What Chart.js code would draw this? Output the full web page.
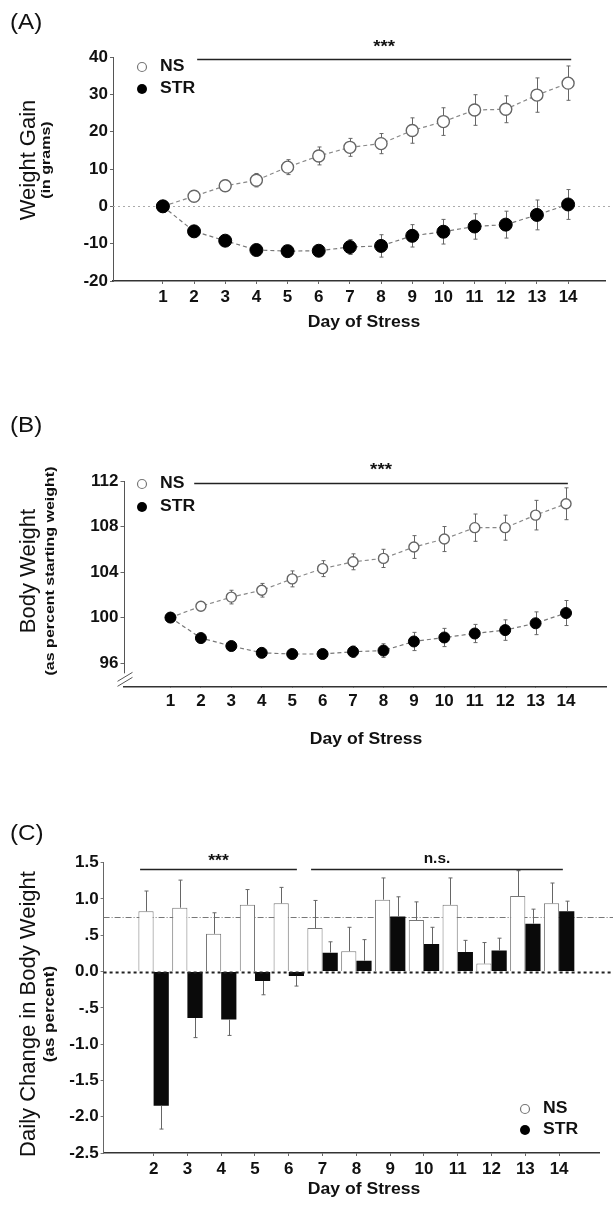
<!DOCTYPE html>
<html>
<head>
<meta charset="utf-8">
<script src="https://cdn.jsdelivr.net/npm/chart.js@4.4.1/dist/chart.umd.min.js"></script>
<style>
  html, body { margin: 0; padding: 0; background: #fff; }
  #page { position: relative; width: 613px; height: 1205px; overflow: hidden; background: #fff; }
  .panel { position: absolute; left: 0; width: 613px; }
</style>
</head>
<body>
<div id="page">
  <div class="panel" style="top:0;height:340px"><canvas id="chartA"></canvas></div>
  <div class="panel" style="top:340px;height:420px"><canvas id="chartB"></canvas></div>
  <div class="panel" style="top:760px;height:445px"><canvas id="chartC"></canvas></div>
</div>
<script>
// ---- data ----
const days = [1, 2, 3, 4, 5, 6, 7, 8, 9, 10, 11, 12, 13, 14];

// (A) weight gain, grams
const gainNS     = [0, 2.7, 5.5, 7.0, 10.5, 13.5, 15.8, 16.8, 20.3, 22.7, 25.8, 26.0, 29.8, 33.0];
const gainNSErr  = [0, 1.2, 1.5, 1.8, 2.0, 2.4, 2.4, 2.7, 3.4, 3.7, 4.1, 3.6, 4.6, 4.6];
const gainSTR    = [0, -6.7, -9.2, -11.7, -12.0, -11.9, -10.9, -10.6, -7.9, -6.8, -5.4, -4.9, -2.3, 0.5];
const gainSTRErr = [0, 1.2, 1.2, 1.2, 1.3, 1.4, 2.0, 3.0, 3.0, 3.3, 3.4, 3.6, 4.0, 4.0];

// (B) body weight, percent of starting weight
const bwNS     = [100, 101.0, 101.8, 102.4, 103.4, 104.3, 104.9, 105.2, 106.2, 106.9, 107.9, 107.9, 109.0, 110.0];
const bwNSErr  = [0, 0.3, 0.6, 0.6, 0.7, 0.7, 0.7, 0.8, 1.0, 1.1, 1.2, 1.1, 1.3, 1.4];
const bwSTR    = [100, 98.2, 97.5, 96.9, 96.8, 96.8, 97.0, 97.1, 97.9, 98.25, 98.6, 98.9, 99.5, 100.4];
const bwSTRErr = [0, 0.3, 0.3, 0.3, 0.3, 0.4, 0.5, 0.6, 0.8, 0.8, 0.8, 0.9, 1.0, 1.1];
const bwTicks  = [96, 100, 104, 108, 112];

// (C) daily change in body weight, percent
const changeDays = [2, 3, 4, 5, 6, 7, 8, 9, 10, 11, 12, 13, 14];
const chgNS     = [0.83, 0.88, 0.52, 0.92, 0.94, 0.60, 0.28, 0.99, 0.71, 0.92, 0.11, 1.04, 0.94];
const chgNSErr  = [0.28, 0.38, 0.29, 0.21, 0.22, 0.38, 0.33, 0.30, 0.25, 0.37, 0.29, 0.35, 0.28];
const chgSTR    = [-1.85, -0.64, -0.66, -0.13, -0.06, 0.26, 0.15, 0.76, 0.38, 0.27, 0.29, 0.66, 0.83];
const chgSTRErr = [0.32, 0.27, 0.22, 0.19, 0.14, 0.15, 0.29, 0.27, 0.23, 0.16, 0.17, 0.20, 0.14];
const nsMeanLine = 0.75;

const FONT = '"Liberation Sans", Arial, sans-serif';
const TEXT_SX = 1.1; // the scanned lettering is a bit wider than Arial
Chart.defaults.font.family = FONT;
Chart.defaults.color = '#000';

const xy = (xs, ys) => xs.map((x, i) => ({ x: x, y: ys[i] }));

// error bars: 'both' = up and down, 'out' = away from zero
const errorBars = {
  id: 'errorBars',
  beforeDatasetsDraw(chart) { if (chart.config.type === 'line') drawErrors(chart); },
  afterDatasetsDraw(chart) { if (chart.config.type === 'bar') drawErrors(chart); }
};
function drawErrors(chart) {
  const ctx = chart.ctx;
  const y = chart.scales.y;
  ctx.save();
  ctx.strokeStyle = '#666';
  ctx.lineWidth = 1;
  chart.data.datasets.forEach((ds, di) => {
    if (!ds.errors) return;
    const meta = chart.getDatasetMeta(di);
    meta.data.forEach((el, i) => {
      const e = ds.errors[i];
      if (!e) return;
      const v = ds.data[i].y;
      let lo, hi;
      if (ds.errDir === 'out') {
        lo = v; hi = v >= 0 ? v + e : v - e;
      } else {
        lo = v - e; hi = v + e;
      }
      const px = Math.round(el.x) + 0.5;
      const p1 = y.getPixelForValue(lo), p2 = y.getPixelForValue(hi);
      ctx.beginPath();
      ctx.moveTo(px, p1); ctx.lineTo(px, p2);
      if (ds.errDir !== 'out') { ctx.moveTo(px - 2, p1); ctx.lineTo(px + 2, p1); }
      ctx.moveTo(px - 2, p2); ctx.lineTo(px + 2, p2);
      ctx.stroke();
    });
  });
  ctx.restore();
}

function wideText(ctx, text, x, y, align) {
  ctx.save();
  ctx.translate(x, y);
  ctx.scale(TEXT_SX, 1);
  ctx.textAlign = align;
  ctx.fillText(text, 0, 0);
  ctx.restore();
}

// titles, legend, significance lines, reference lines
function decor(cfg) {
  function refLines(chart, front) {
    const { ctx, chartArea: a, scales: { y } } = chart;
    (cfg.refLines || []).filter(r => !!r.front === front).forEach(r => {
      const py = Math.round(y.getPixelForValue(r.value)) + 0.5;
      ctx.save();
      ctx.strokeStyle = r.color; ctx.lineWidth = r.width; ctx.setLineDash(r.dash);
      ctx.beginPath(); ctx.moveTo(a.left, py); ctx.lineTo(chart.width, py); ctx.stroke();
      ctx.restore();
    });
  }
  return {
    id: 'decor',
    beforeDatasetsDraw(chart) { refLines(chart, false); },
    afterDatasetsDraw(chart) { refLines(chart, true); },
    afterDraw(chart) {
      const { ctx, chartArea: a, scales: { x, y } } = chart;
      ctx.save();
      ctx.fillStyle = '#111';
      ctx.textBaseline = 'middle';

      ctx.font = '22px ' + FONT;
      wideText(ctx, cfg.panel.text, cfg.panel.x, cfg.panel.y, 'left');

      // y title (two lines, rotated)
      ctx.textAlign = 'center';
      ctx.save();
      ctx.translate(cfg.yTitle.x, cfg.yTitle.y); ctx.rotate(-Math.PI / 2);
      ctx.font = '22px ' + FONT; ctx.fillText(cfg.yTitle.main, 0, 0);
      ctx.restore();
      ctx.save();
      ctx.translate(cfg.yTitle.subX, cfg.yTitle.y); ctx.rotate(-Math.PI / 2); ctx.scale(1, 0.85);
      ctx.font = 'bold ' + cfg.yTitle.subSize + 'px ' + FONT; ctx.fillText(cfg.yTitle.sub, 0, 0);
      ctx.restore();

      ctx.font = 'bold 16px ' + FONT;
      wideText(ctx, 'Day of Stress', cfg.xTitle.x, cfg.xTitle.y, 'center');

      // legend
      cfg.legend.items.forEach(it => {
        ctx.beginPath();
        ctx.arc(cfg.legend.x, it.y, it.open ? 4.5 : 5, 0, Math.PI * 2);
        if (it.open) { ctx.strokeStyle = '#777'; ctx.lineWidth = 1.2; ctx.stroke(); }
        else { ctx.fillStyle = '#000'; ctx.fill(); }
        ctx.fillStyle = '#111';
        ctx.font = 'bold 16px ' + FONT;
        wideText(ctx, it.label, cfg.legend.textX, it.y, 'left');
      });

      // significance bars
      (cfg.sig || []).forEach(s => {
        const x1 = x.getPixelForValue(s.from), x2 = x.getPixelForValue(s.to);
        const py = Math.round(y.getPixelForValue(s.y)) + 0.5;
        ctx.strokeStyle = '#222'; ctx.lineWidth = 1.6;
        ctx.beginPath(); ctx.moveTo(x1, py); ctx.lineTo(x2, py); ctx.stroke();
        ctx.font = 'bold ' + s.size + 'px ' + FONT;
        wideText(ctx, s.text, (x1 + x2) / 2, py + s.dy, 'center');
      });

      if (cfg.brokenAxis) {
        const yEnd = y.getPixelForValue(cfg.brokenAxis.end);
        const lx = Math.round(a.left) + 0.5;
        ctx.strokeStyle = '#555'; ctx.lineWidth = 1;
        ctx.beginPath(); ctx.moveTo(lx, a.top); ctx.lineTo(lx, yEnd); ctx.stroke();
        ctx.beginPath();
        ctx.moveTo(lx - 7, yEnd + 8); ctx.lineTo(lx + 8, yEnd - 1);
        ctx.moveTo(lx - 7, yEnd + 13); ctx.lineTo(lx + 8, yEnd + 4);
        ctx.stroke();
      }
      ctx.restore();
    }
  };
}

function lineSets(ns, nsErr, str, strErr, r) {
  return [
    { label: 'STR', data: xy(days, str), errors: strErr, order: 0,
      borderColor: '#777', borderWidth: 1.2, borderDash: [4, 3],
      pointRadius: r + 0.5, pointBackgroundColor: '#000', pointBorderColor: '#000', pointBorderWidth: 1 },
    { label: 'NS', data: xy(days, ns), errors: nsErr, order: 1,
      borderColor: '#888', borderWidth: 1.2, borderDash: [4, 3],
      pointRadius: r, pointBackgroundColor: '#fff', pointBorderColor: '#666', pointBorderWidth: 1.4 }
  ];
}

const tickFont = { size: 17, weight: 'bold' };

function axisX(min, max, ticks, height, tickLen, pad) {
  return {
    type: 'linear', min: min, max: max, offset: false,
    afterBuildTicks: s => { s.ticks = ticks.map(v => ({ value: v })); },
    afterFit: s => { s.height = height; },
    border: { display: true, color: '#333', width: 1.5 },
    grid: { drawOnChartArea: false, drawTicks: true, tickLength: tickLen, color: '#666', offset: false },
    ticks: { autoSkip: false, maxRotation: 0, padding: pad, font: tickFont, color: '#111' }
  };
}

// ---- (A) ----
new Chart(document.getElementById('chartA'), {
  type: 'line',
  data: { datasets: lineSets(gainNS, gainNSErr, gainSTR, gainSTRErr, 6) },
  options: {
    responsive: true, maintainAspectRatio: false, animation: false,
    layout: { padding: { top: 57, right: 1, left: 0, bottom: 0 } },
    plugins: { legend: { display: false }, tooltip: { enabled: false } },
    scales: {
      x: axisX(-0.6, 15.2, days, 59, 3, 3),
      y: {
        min: -20, max: 40,
        afterFit: s => { s.width = 113; },
        border: { display: true, color: '#555', width: 1 },
        grid: { drawOnChartArea: false, tickLength: 3, color: '#666' },
        ticks: { stepSize: 10, padding: 2, font: tickFont, color: '#111' }
      }
    }
  },
  plugins: [errorBars, decor({
    panel: { text: '(A)', x: 10, y: 23 },
    yTitle: { main: 'Weight Gain', sub: '(in grams)', x: 29, subX: 46, y: 160, subSize: 16 },
    xTitle: { x: 364, y: 323 },
    legend: { x: 142, textX: 160, items: [{ label: 'NS', open: true, y: 67 }, { label: 'STR', open: false, y: 89 }] },
    sig: [{ from: 2.1, to: 14.1, y: 39.5, text: '***', dy: -12, size: 17 }],
    refLines: [{ value: 0, color: '#aaa', width: 1, dash: [2, 3] }]
  })]
});

// ---- (B) ----
new Chart(document.getElementById('chartB'), {
  type: 'line',
  data: { datasets: lineSets(bwNS, bwNSErr, bwSTR, bwSTRErr, 5) },
  options: {
    responsive: true, maintainAspectRatio: false, animation: false,
    layout: { padding: { top: 141, right: 1, left: 0, bottom: 0 } },
    plugins: { legend: { display: false }, tooltip: { enabled: false } },
    scales: {
      x: axisX(-0.544, 15.33, days, 73, 0, 4),
      y: {
        min: 93.9, max: 112,
        afterBuildTicks: s => { s.ticks = bwTicks.map(v => ({ value: v })); },
        afterFit: s => { s.width = 123.5; },
        border: { display: false },
        grid: { drawOnChartArea: false, tickLength: 3, color: '#666' },
        ticks: { padding: 2, font: tickFont, color: '#111' }
      }
    }
  },
  plugins: [errorBars, decor({
    panel: { text: '(B)', x: 10, y: 86 },
    yTitle: { main: 'Body Weight', sub: '(as percent starting weight)', x: 29, subX: 50, y: 231, subSize: 16 },
    xTitle: { x: 366, y: 400 },
    legend: { x: 142, textX: 160, items: [{ label: 'NS', open: true, y: 144 }, { label: 'STR', open: false, y: 167 }] },
    sig: [{ from: 1.78, to: 14.06, y: 111.8, text: '***', dy: -13, size: 17 }],
    brokenAxis: { end: 95.1 }
  })]
});

// ---- (C) ----
new Chart(document.getElementById('chartC'), {
  type: 'bar',
  data: {
    datasets: [
      { label: 'NS', data: xy(changeDays, chgNS), errors: chgNSErr, errDir: 'out',
        backgroundColor: '#fff', borderColor: '#777', borderWidth: 1 },
      { label: 'STR', data: xy(changeDays, chgSTR), errors: chgSTRErr, errDir: 'out',
        backgroundColor: '#0a0a0a', borderColor: '#0a0a0a', borderWidth: 0 }
    ]
  },
  options: {
    responsive: true, maintainAspectRatio: false, animation: false,
    layout: { padding: { top: 102.7, right: 14, left: 0, bottom: 0 } },
    plugins: { legend: { display: false }, tooltip: { enabled: false } },
    datasets: { bar: { categoryPercentage: 0.9, barPercentage: 1.0 } },
    scales: {
      x: axisX(0.52, 15.18, changeDays, 52, 3, 3),
      y: {
        min: -2.5, max: 1.5,
        afterFit: s => { s.width = 103.6; },
        border: { display: true, color: '#666', width: 1 },
        grid: { drawOnChartArea: false, tickLength: 3, color: '#777' },
        ticks: {
          stepSize: 0.5, padding: 2, font: tickFont, color: '#111',
          callback: v => {
            if (Math.abs(v) < 1e-9) return '0.0';
            const s = v.toFixed(1);
            return Math.abs(v) === 0.5 ? s.replace('0.', '.') : s;
          }
        }
      }
    }
  },
  plugins: [errorBars, decor({
    panel: { text: '(C)', x: 10, y: 74 },
    yTitle: { main: 'Daily Change in Body Weight', sub: '(as percent)', x: 29, subX: 50, y: 254, subSize: 17 },
    xTitle: { x: 364, y: 430 },
    legend: { x: 525, textX: 543, items: [{ label: 'NS', open: true, y: 349 }, { label: 'STR', open: false, y: 370 }] },
    sig: [
      { from: 1.6, to: 6.24, y: 1.41, text: '***', dy: -8, size: 16 },
      { from: 6.66, to: 14.11, y: 1.41, text: 'n.s.', dy: -10, size: 14 }
    ],
    refLines: [
      { value: nsMeanLine, color: '#777', width: 1, dash: [6, 2, 1, 2] },
      { value: 0, color: '#222', width: 2, dash: [3, 3], front: true }
    ]
  })]
});
</script>
</body>
</html>
